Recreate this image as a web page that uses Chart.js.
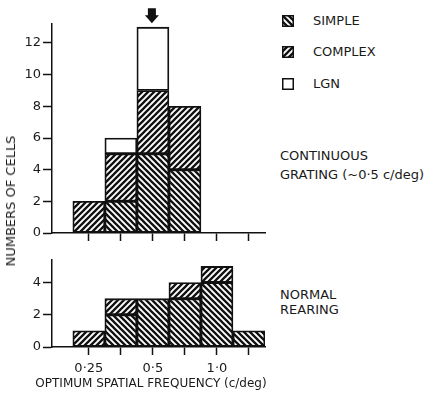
<!DOCTYPE html>
<html>
<head>
<meta charset="utf-8">
<script src="https://cdn.jsdelivr.net/npm/chart.js@4.4.0/dist/chart.umd.min.js"></script>
<style>
  body { margin: 0; background: #fff; width: 424px; height: 395px; position: relative; overflow: hidden;
         font-family: 'DejaVu Sans', sans-serif; color: #1a1a1a; }
  canvas.plot { position: absolute; left: 0; }
  .txt { position: absolute; font-size: 13px; line-height: 16px; white-space: nowrap; }
  .sw { position: absolute; left: 282px; }
</style>
</head>
<body>
<canvas id="topChart" class="plot" width="280" height="250" style="top:0"></canvas>
<canvas id="bottomChart" class="plot" width="280" height="145" style="top:250px"></canvas>

<div class="txt" style="left:11px; top:201px; transform: translate(-50%,-50%) rotate(-90deg);">NUMBERS OF CELLS</div>
<div class="txt" style="left:151px; top:375px; font-size:12px; transform: translateX(-50%);">OPTIMUM SPATIAL FREQUENCY (c/deg)</div>

<canvas id="swSimple" class="sw" width="12" height="12" style="top:15px"></canvas>
<canvas id="swComplex" class="sw" width="12" height="12" style="top:46px"></canvas>
<canvas id="swLgn" class="sw" width="12" height="12" style="top:78px"></canvas>
<div class="txt" style="left:313px; top:13px;">SIMPLE</div>
<div class="txt" style="left:313px; top:44px;">COMPLEX</div>
<div class="txt" style="left:313px; top:76px;">LGN</div>

<div class="txt" style="left:280px; top:146px; line-height:19px;">CONTINUOUS<br>GRATING (~0·5 c/deg)</div>
<div class="txt" style="left:280px; top:287px; line-height:15px;">NORMAL<br>REARING</div>

<script>
// half-octave bins of optimum spatial frequency, starting at 0.25 c/deg
const bins = [0, 1, 2, 3, 4, 5];
const tickLabels = ['0·25', '', '0·5', '', '1·0', ''];

// reared with continuous grating (~0.5 c/deg)
const contSimple  = [0, 2, 5, 4, 0, 0];
const contComplex = [2, 3, 4, 4, 0, 0];
const contLgn     = [0, 1, 4, 0, 0, 0];

// normal rearing
const normSimple  = [0, 2, 3, 3, 4, 1];
const normComplex = [1, 1, 0, 1, 1, 0];

const arrowBin = 2; // grating frequency marker

Chart.defaults.font.family = "'DejaVu Sans', sans-serif";
Chart.defaults.font.size = 13;
Chart.defaults.color = '#1a1a1a';

// diagonal hatch fill, '\' for simple cells and '/' for complex cells
function hatch(dir) {
  const s = 6;
  const c = document.createElement('canvas');
  c.width = c.height = s;
  const g = c.getContext('2d');
  g.fillStyle = '#fff';
  g.fillRect(0, 0, s, s);
  g.strokeStyle = '#111';
  g.lineWidth = 2.3;
  g.beginPath();
  for (const o of [-s, 0, s]) {
    if (dir === '\\') { g.moveTo(o - 1, -1); g.lineTo(o + s + 1, s + 1); }
    else { g.moveTo(o - 1, s + 1); g.lineTo(o + s + 1, -1); }
  }
  g.stroke();
  return g.createPattern(c, 'repeat');
}

const simpleFill = hatch('\\');
const complexFill = hatch('/');

function series(label, vals, fill) {
  return {
    label: label,
    data: vals.map((v, i) => ({ x: bins[i], y: v || null })),
    backgroundColor: fill,
    borderColor: '#111',
    borderWidth: 1.8,
    borderSkipped: false,
    barPercentage: 1,
    categoryPercentage: 1
  };
}

// marker arrow above the bin of the rearing grating
const arrowPlugin = {
  id: 'peakArrow',
  afterDraw(chart) {
    const ctx = chart.ctx;
    const px = chart.scales.x.getPixelForValue(arrowBin) - 1;
    const total = contSimple[arrowBin] + contComplex[arrowBin] + contLgn[arrowBin];
    const tip = chart.scales.y.getPixelForValue(total) - 4;
    ctx.save();
    ctx.fillStyle = '#111';
    ctx.beginPath();
    ctx.moveTo(px - 4, tip - 15);
    ctx.lineTo(px + 4, tip - 15);
    ctx.lineTo(px + 4, tip - 8);
    ctx.lineTo(px + 7, tip - 8);
    ctx.lineTo(px, tip);
    ctx.lineTo(px - 7, tip - 8);
    ctx.lineTo(px - 4, tip - 8);
    ctx.closePath();
    ctx.fill();
    ctx.restore();
  }
};

function panelOptions(yMax, padTop, xHeight, showLabels) {
  const yTicks = [];
  for (let v = 0; v <= Math.floor(yMax); v++) yTicks.push(v);
  return {
    responsive: false,
    animation: false,
    devicePixelRatio: 1,
    layout: { padding: { top: padTop, right: 15, left: 0, bottom: 0 } },
    plugins: { legend: { display: false }, tooltip: { enabled: false } },
    scales: {
      x: {
        type: 'linear',
        stacked: true,
        offset: false,
        min: -1.15,
        max: 5.5,
        afterBuildTicks: s => { s.ticks = bins.map(v => ({ value: v })); },
        afterFit: s => { s.height = xHeight; },
        grid: { offset: false, drawOnChartArea: false, tickLength: 8, tickColor: '#111', tickWidth: 1.5 },
        border: { color: '#111', width: 1.5 },
        ticks: {
          display: showLabels,
          autoSkip: false,
          maxRotation: 0,
          padding: 6,
          callback: (v, i) => tickLabels[i]
        }
      },
      y: {
        stacked: true,
        min: 0,
        max: yMax,
        afterBuildTicks: s => { s.ticks = yTicks.map(v => ({ value: v })); },
        afterFit: s => { s.width = 52; },
        grid: { drawOnChartArea: false, tickLength: 9, tickColor: '#111', tickWidth: 1.5 },
        border: { color: '#111', width: 1.5 },
        ticks: { padding: 2, callback: v => (v % 2 === 0 ? v : '') }
      }
    }
  };
}

new Chart(document.getElementById('topChart'), {
  type: 'bar',
  data: {
    datasets: [
      series('SIMPLE', contSimple, simpleFill),
      series('COMPLEX', contComplex, complexFill),
      series('LGN', contLgn, '#fff')
    ]
  },
  options: panelOptions(13.2, 24, 17, false),
  plugins: [arrowPlugin]
});

new Chart(document.getElementById('bottomChart'), {
  type: 'bar',
  data: {
    datasets: [
      series('SIMPLE', normSimple, simpleFill),
      series('COMPLEX', normComplex, complexFill)
    ]
  },
  options: panelOptions(5.4, 10, 48, true)
});

// legend swatches
function swatch(id, fill) {
  const g = document.getElementById(id).getContext('2d');
  g.fillStyle = fill;
  g.fillRect(0, 0, 12, 12);
  g.strokeStyle = '#111';
  g.lineWidth = 1.5;
  g.strokeRect(0.75, 0.75, 10.5, 10.5);
}
swatch('swSimple', hatch('\\'));
swatch('swComplex', hatch('/'));
swatch('swLgn', '#fff');
</script>
</body>
</html>
